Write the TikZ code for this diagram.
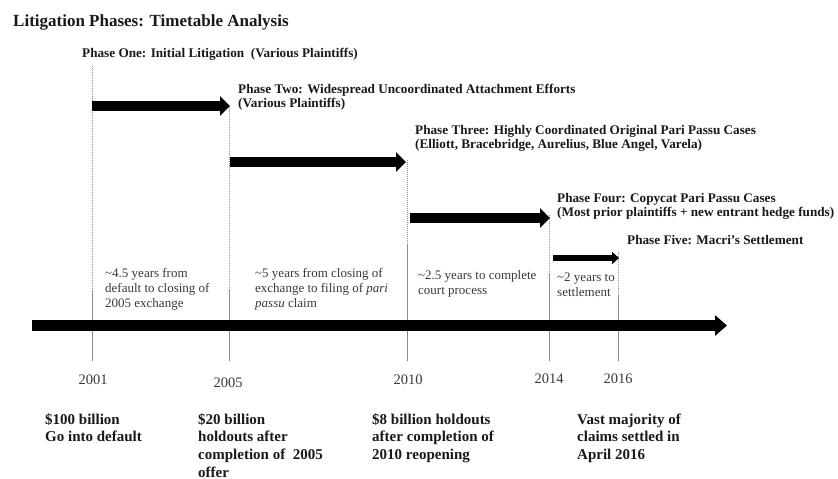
\documentclass[tikz,border=0pt]{standalone}
\usepackage{fontspec}
\setmainfont{Liberation Serif}
\usetikzlibrary{arrows.meta}
\newcommand{\mlines}[1]{\begin{tabular}[t]{@{}l@{}}#1\end{tabular}}
\definecolor{txtgray}{HTML}{3A3A3A}
\definecolor{linegray}{HTML}{8C8C8C}
\begin{document}
\begin{tikzpicture}[x=1pt,y=-1pt,
  titletext/.style={anchor=base west,inner sep=0pt,font=\fontsize{17}{20}\selectfont\bfseries,text=black!90},
  phasetext/.style={anchor=base west,inner sep=0pt,font=\fontsize{13.2}{14.5}\selectfont\bfseries,text=black!90},
  durtext/.style={anchor=base west,inner sep=0pt,font=\fontsize{13}{15}\selectfont,text=txtgray},
  yeartext/.style={anchor=base,inner sep=0pt,font=\fontsize{14.5}{16}\selectfont,text=txtgray},
  bottext/.style={anchor=base west,inner sep=0pt,font=\fontsize{15}{17.8}\selectfont\bfseries,text=black!90},
  dotline/.style={draw=linegray,line width=1pt,dash pattern=on 1pt off 1pt},
  tickline/.style={draw=linegray,line width=1pt},
  mainarrow/.style={line width=11pt,-{Triangle[length=12pt,width=20pt]}},
  phasearrow/.style={line width=10pt,-{Triangle[length=10pt,width=19pt]}},
  smallarrow/.style={line width=6pt,-{Triangle[length=7pt,width=12pt]}}
]
\useasboundingbox[fill=white] (0,0) rectangle (838,479);

% vertical guide lines
\coordinate (v1t) at (92,66);  \coordinate (v1m) at (92,290);  \coordinate (v1b) at (92,361);
\coordinate (v2t) at (229,107); \coordinate (v2m) at (229,290); \coordinate (v2b) at (229,361);
\coordinate (v3t) at (407,160); \coordinate (v3m) at (407,245); \coordinate (v3b) at (407,361);
\coordinate (v4t) at (549,215); \coordinate (v4m) at (549,273); \coordinate (v4b) at (549,361);
\coordinate (v5t) at (618,252); \coordinate (v5m) at (618,295); \coordinate (v5b) at (618,361);
\foreach \i in {1,...,5}{
  \draw[dotline] (v\i t) -- (v\i m);
  \draw[tickline] (v\i m) -- (v\i b);
}

% main timeline
\coordinate (ms) at (32,325.5);
\coordinate (me) at (727,325.5);
\draw[mainarrow] (ms) -- (me);

% phase arrows
\coordinate (p1s) at (92,106);  \coordinate (p1e) at (230,106);
\coordinate (p2s) at (230,162); \coordinate (p2e) at (406,162);
\coordinate (p3s) at (410,218); \coordinate (p3e) at (550,218);
\coordinate (p4s) at (553,258); \coordinate (p4e) at (619,258);
\draw[phasearrow] (p1s) -- (p1e);
\draw[phasearrow] (p2s) -- (p2e);
\draw[phasearrow] (p3s) -- (p3e);
\draw[smallarrow] (p4s) -- (p4e);

% title
\node[titletext] (title) at (13,26) {Litigation Phases: Timetable Analysis};

% phase labels
\node[phasetext] (ph1) at (82,57) {Phase One: Initial Litigation\ \ (Various Plaintiffs)};
\node[phasetext] (ph2) at (238,93) {\mlines{Phase Two: Widespread Uncoordinated Attachment Efforts\\(Various Plaintiffs)}};
\node[phasetext] (ph3) at (415,134) {\mlines{Phase Three: Highly Coordinated Original Pari Passu Cases\\(Elliott, Bracebridge, Aurelius, Blue Angel, Varela)}};
\node[phasetext] (ph4) at (557,202) {\mlines{Phase Four: Copycat Pari Passu Cases\\(Most prior plaintiffs + new entrant hedge funds)}};
\node[phasetext] (ph5) at (627,244) {Phase Five: Macri's Settlement};

% durations
\node[durtext] (d1) at (105,277) {\mlines{\textasciitilde 4.5 years from\\default to closing of\\2005 exchange}};
\node[durtext] (d2) at (255,277) {\mlines{\textasciitilde 5 years from closing of\\exchange to filing of \textit{pari}\\\textit{passu} claim}};
\node[durtext] (d3) at (418,279) {\mlines{\textasciitilde 2.5 years to complete\\court process}};
\node[durtext] (d4) at (557,281) {\mlines{\textasciitilde 2 years to\\settlement}};

% years
\node[yeartext] (y1) at (93,384) {2001};
\node[yeartext] (y2) at (228,387) {2005};
\node[yeartext] (y3) at (408,384) {2010};
\node[yeartext] (y4) at (549,383) {2014};
\node[yeartext] (y5) at (618,383) {2016};

% bottom descriptions
\node[bottext] (b1) at (45,424) {\mlines{\$100 billion\\Go into default}};
\node[bottext] (b2) at (198,424) {\mlines{\$20 billion\\holdouts after\\completion of\ \ 2005\\offer}};
\node[bottext] (b3) at (372,424) {\mlines{\$8 billion holdouts\\after completion of\\2010 reopening}};
\node[bottext] (b4) at (577,424) {\mlines{Vast majority of\\claims settled in\\April 2016}};
\end{tikzpicture}
\end{document}
